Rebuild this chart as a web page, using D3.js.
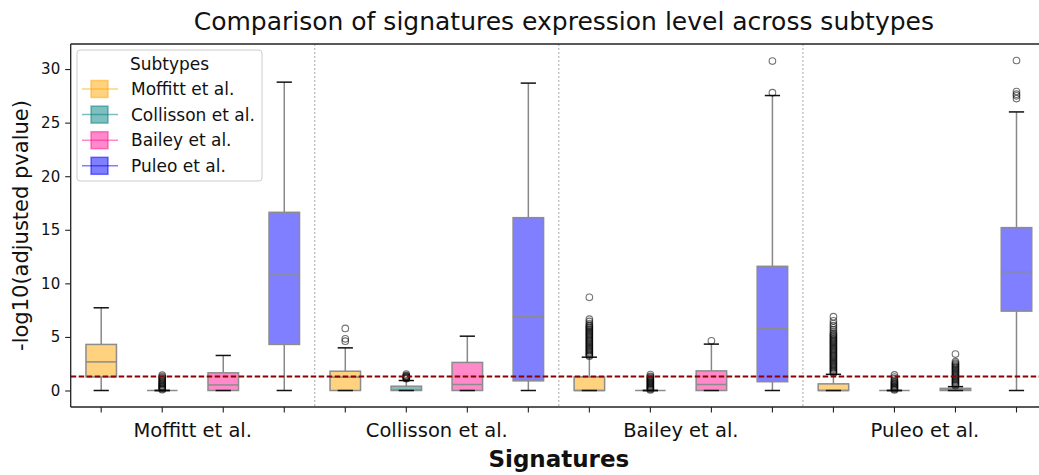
<!DOCTYPE html>
<html><head><meta charset="utf-8">
<script src="https://cdn.jsdelivr.net/npm/d3@7"></script>
<style>body{margin:0;background:#fff} svg{display:block} text{font-family:"DejaVu Sans",sans-serif;fill:#111}</style>
</head><body><svg id="c" width="1039" height="475"></svg>
<script>
const signatures = ["Moffitt et al.","Collisson et al.","Bailey et al.","Puleo et al."];
const subtypes = ["Moffitt et al.","Collisson et al.","Bailey et al.","Puleo et al."];
const subtypeColors = ["#FFA500","#008080","#FF1493","#0000FF"];
const yTicks = [0,5,10,15,20,25,30];
const threshold = 1.301;
const titleText = "Comparison of signatures expression level across subtypes";
const yLabel = "-log10(adjusted pvalue)";
const xLabel = "Signatures";
const legendTitle = "Subtypes";

// [whiskerLow, q1, median, q3, whiskerHigh] per subtype, one array per signature
const statsMoffitt   = [[0,1.27,2.67,4.30,7.72],[0,0,0,0,0],[0,0,0.52,1.65,3.27],[0,4.30,10.78,16.63,28.78]];
const statsCollisson = [[0,0,1.25,1.80,3.98],[0,0,0.05,0.40,0.93],[0,0,0.56,2.62,5.07],[0,0.90,6.88,16.13,28.69]];
const statsBailey    = [[0,0,0,1.27,3.11],[0,0,0,0,0],[0,0,0.56,1.83,4.33],[0,0.82,5.76,11.59,27.53]];
const statsPuleo     = [[0,0,0,0.62,1.51],[0,0,0,0,0],[0,0,0.05,0.20,0.36],[0,7.41,11.08,15.20,26.00]];

// outliers per subtype, one array per signature
const outMoffitt = [[],
  [0.08,0.15,0.22,0.3,0.38,0.45,0.55,0.62,0.7,0.8,0.9,1.0,1.1,1.2,1.3,1.43],
  [],[]];
const outCollisson = [[4.6,4.82,5.79],
  [1.1,1.15,1.2,1.25,1.3,1.35,1.4,1.52],
  [],[]];
const outBailey = [
  [3.2,3.3,3.4,3.5,3.6,3.7,3.8,3.9,4.0,4.1,4.2,4.3,4.4,4.5,4.6,4.7,4.8,4.9,5.0,5.1,5.2,5.3,5.4,5.5,5.6,5.7,5.8,5.9,6.0,6.1,6.25,6.45,6.66,8.7],
  [0.05,0.12,0.2,0.28,0.36,0.44,0.52,0.6,0.68,0.76,0.84,0.92,1.0,1.08,1.16,1.24,1.32,1.49],
  [4.64],
  [27.8,30.75]];
const outPuleo = [
  [1.6,1.7,1.8,1.9,2.0,2.1,2.2,2.3,2.4,2.5,2.6,2.7,2.8,2.9,3.0,3.1,3.2,3.3,3.4,3.5,3.6,3.7,3.8,3.9,4.0,4.1,4.2,4.3,4.4,4.5,4.6,4.7,4.8,4.9,5.0,5.1,5.2,5.3,5.45,5.65,5.85,6.05,6.25,6.5,6.89],
  [0.05,0.12,0.2,0.28,0.36,0.44,0.52,0.6,0.68,0.76,0.84,0.95,1.1,1.25,1.45],
  [0.45,0.55,0.65,0.75,0.85,0.95,1.05,1.15,1.25,1.35,1.45,1.55,1.65,1.75,1.85,1.95,2.05,2.15,2.25,2.35,2.45,2.55,2.69,3.4],
  [27.25,27.5,27.66,27.9,30.8]];

const allStats = [statsMoffitt, statsCollisson, statsBailey, statsPuleo];
const allOut = [outMoffitt, outCollisson, outBailey, outPuleo];

const boxes = [];
signatures.forEach((sig, gi) => subtypes.forEach((sub, si) => {
  const s = allStats[gi][si];
  boxes.push({key: gi + "|" + si, gi, si, lo: s[0], q1: s[1], med: s[2], q3: s[3], hi: s[4], out: allOut[gi][si]});
}));

const svg = d3.select("#c");
const L = 70.7, R = 1047, T = 44, B = 407;
const x = d3.scaleBand().domain(boxes.map(d => d.key)).range([L, R]).padding(0);
const y = d3.scaleLinear().domain([-1.54, 32.34]).range([B, T]);
const bw = x.bandwidth() * 0.5;
const cw = bw * 0.5;

// group separators
const sep = svg.append("g");
signatures.slice(1).forEach((s, i) => {
  const xs = x((i + 1) + "|0");
  sep.append("line").attr("x1", xs).attr("x2", xs).attr("y1", T).attr("y2", B)
    .attr("stroke", "#aaa").attr("stroke-width", 1).attr("stroke-dasharray", "2,2");
});

// boxes
const g = svg.append("g");
boxes.forEach(d => {
  const cx = x(d.key) + x.bandwidth() / 2;
  const col = subtypeColors[d.si];
  g.append("line").attr("x1", cx).attr("x2", cx).attr("y1", y(d.q3)).attr("y2", y(d.hi)).attr("stroke", "#888").attr("stroke-width", 1.5);
  g.append("line").attr("x1", cx).attr("x2", cx).attr("y1", y(d.q1)).attr("y2", y(d.lo)).attr("stroke", "#888").attr("stroke-width", 1.5);
  g.append("rect").attr("x", cx - bw / 2).attr("width", bw)
    .attr("y", y(d.q3)).attr("height", Math.max(0, y(d.q1) - y(d.q3)))
    .attr("fill", col).attr("fill-opacity", 0.5).attr("stroke", "#8c8c8c").attr("stroke-width", 1.5);
  g.append("line").attr("x1", cx - bw / 2).attr("x2", cx + bw / 2).attr("y1", y(d.med)).attr("y2", y(d.med)).attr("stroke", "#8c8c8c").attr("stroke-width", 1.5);
  [d.lo, d.hi].forEach(v => g.append("line").attr("x1", cx - cw / 2).attr("x2", cx + cw / 2).attr("y1", y(v)).attr("y2", y(v)).attr("stroke", "#111").attr("stroke-width", 1.5));
  d.out.forEach(v => g.append("circle").attr("cx", cx).attr("cy", y(v)).attr("r", 3.3)
    .attr("fill", "none").attr("stroke", "#000").attr("stroke-opacity", 0.55).attr("stroke-width", 1.1));
});

// threshold line
svg.append("line").attr("x1", L).attr("x2", R).attr("y1", y(threshold)).attr("y2", y(threshold))
  .attr("stroke", "#8B0000").attr("stroke-width", 2).attr("stroke-dasharray", "5.5,2.5");

// axes
const yAxis = svg.append("g").attr("transform", `translate(${L},0)`)
  .call(d3.axisLeft(y).tickValues(yTicks).tickSize(5.5).tickPadding(5));
yAxis.select(".domain").remove();
yAxis.selectAll("text").style("font-size", "15px").attr("fill", "#111");
yAxis.selectAll("line").attr("stroke", "#222").attr("stroke-width", 1.1);

const xAxis = svg.append("g").attr("transform", `translate(0,${B})`)
  .call(d3.axisBottom(x).tickSize(5.5).tickFormat(""));
xAxis.select(".domain").remove();
xAxis.selectAll("line").attr("stroke", "#222").attr("stroke-width", 1.1);

// spines
svg.append("line").attr("x1", L).attr("x2", L).attr("y1", T).attr("y2", B).attr("stroke", "#222").attr("stroke-width", 1.3);
svg.append("line").attr("x1", L).attr("x2", R).attr("y1", B).attr("y2", B).attr("stroke", "#222").attr("stroke-width", 1.3);
svg.append("line").attr("x1", L).attr("x2", R).attr("y1", T).attr("y2", T).attr("stroke", "#222").attr("stroke-width", 1.3);

// group labels
signatures.forEach((s, gi) => {
  const a = x(gi + "|0"), b = x(gi + "|3") + x.bandwidth();
  svg.append("text").attr("x", (a + b) / 2).attr("y", 437).attr("text-anchor", "middle")
    .style("font-size", "19.5px").text(s);
});

// labels
svg.append("text").attr("x", (L + R) / 2).attr("y", 467).attr("text-anchor", "middle")
  .style("font-size", "23px").style("font-weight", "bold").text(xLabel);
svg.append("text").attr("transform", `translate(28,${(T + B) / 2}) rotate(-90)`).attr("text-anchor", "middle")
  .style("font-size", "21px").text(yLabel);
svg.append("text").attr("x", (L + R) / 2 + 5).attr("y", 30).attr("text-anchor", "middle")
  .style("font-size", "25px").text(titleText);

// legend
const lg = svg.append("g");
lg.append("rect").attr("x", 77).attr("y", 50).attr("width", 185).attr("height", 131).attr("rx", 3)
  .attr("fill", "#fff").attr("fill-opacity", 0.8).attr("stroke", "#ccc");
lg.append("text").attr("x", 169.5).attr("y", 70).attr("text-anchor", "middle").style("font-size", "17px").text(legendTitle);
subtypes.forEach((s, i) => {
  const cy = 89 + i * 25.6;
  const col = subtypeColors[i];
  lg.append("line").attr("x1", 82).attr("x2", 118).attr("y1", cy).attr("y2", cy).attr("stroke", col).attr("stroke-opacity", 0.5).attr("stroke-width", 1.5);
  lg.append("rect").attr("x", 91).attr("y", cy - 8.5).attr("width", 17).attr("height", 17)
    .attr("fill", col).attr("fill-opacity", 0.5).attr("stroke", col).attr("stroke-opacity", 0.5).attr("stroke-width", 1.5);
  lg.append("text").attr("x", 131).attr("y", cy + 6).style("font-size", "17px").text(s);
});
</script></body></html>
